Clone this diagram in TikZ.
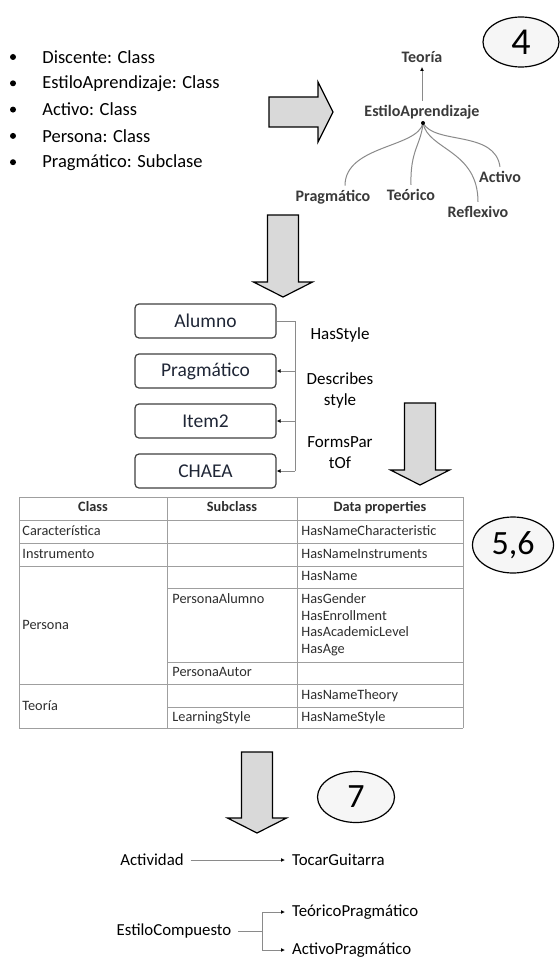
\documentclass[tikz,border=0pt]{standalone}
\usepackage{fontspec}
\setmainfont{Carlito}
\usepackage{tikz}
\usetikzlibrary{shapes.geometric,arrows.meta}
\definecolor{arrowfill}{HTML}{D9D9D9}
\definecolor{linkgray}{HTML}{8A8A8A}
\definecolor{boxtext}{HTML}{1F2636}
\definecolor{treetext}{HTML}{3A3A3A}
\definecolor{celltext}{HTML}{2E2E2E}

\begin{document}
\begin{tikzpicture}[x=0.5pt, y=-0.5pt,
    blockarrow/.style={draw=black, fill=arrowfill, line width=0.6pt},
    stepmark/.style={ellipse, draw=black, fill=gray!7, line width=0.6pt, inner sep=0pt},
    smalltip/.style={-{Latex[length=2pt,width=2pt,color=black]}},
    graylink/.style={draw=linkgray, line width=0.5pt},
    treelabel/.style={inner sep=2pt, text=treetext, font=\fontsize{8}{9}\selectfont\bfseries},
    classbox/.style={draw=black!75, fill=white, rounded corners=2pt, line width=0.6pt,
        minimum width=70.5pt, minimum height=17pt, inner sep=0pt,
        text=boxtext, font=\fontsize{9.75}{11}\selectfont},
    rellabel/.style={align=center, font=\fontsize{8.5}{10.5}\selectfont},
    tableline/.style={draw=gray!75, line width=0.5pt},
    cell/.style={anchor=west, inner sep=0pt, text height=5.2pt, text depth=1.6pt,
        text=celltext, font=\fontsize{7.15}{8}\selectfont},
    headcell/.style={inner sep=0pt, text height=5.2pt, text depth=1.6pt,
        text=celltext, font=\fontsize{7.15}{8}\selectfont\bfseries},
    plainlabel/.style={font=\fontsize{8.4}{10}\selectfont}]

    \fill[white] (0,0) rectangle (559,963);
    \useasboundingbox (0,0) rectangle (559,963);

    % Step marks
    \node[stepmark, minimum width=38pt, minimum height=25pt, font=\fontsize{19}{19}\selectfont] (stepfour) at (521,42) {4};
    \node[stepmark, minimum width=40.5pt, minimum height=28pt, font=\fontsize{17}{17}\selectfont] (stepfive) at (513,545) {5,6};
    \node[stepmark, minimum width=38.5pt, minimum height=25.5pt, font=\fontsize{17}{17}\selectfont] (stepseven) at (356,797) {7};

    % Bullet list
    \foreach \txt [count=\i] in {Discente: Class, EstiloAprendizaje: Class, Activo: Class, Persona: Class, Pragmático: Subclase} {
        \fill (13,{57+(\i-1)*26.3}) circle (3);
        \node[anchor=west, inner sep=0pt, font=\fontsize{9.25}{11}\selectfont] (item\i) at (42,{57+(\i-1)*26.3}) {\txt};
    }

    % Block arrows
    \draw[blockarrow] (269,97) -- (318,97) -- (318,82) -- (333,112) -- (318,142) -- (318,127) -- (269,127) -- cycle;
    \foreach \ax/\ay/\ah in {283/215/282, 420/403/470, 257/752/818}
        \draw[blockarrow] ({\ax-15.5},\ay) -- ({\ax+15.5},\ay) -- ({\ax+15.5},\ah) -- ({\ax+29.5},\ah)
            -- (\ax,{\ah+15}) -- ({\ax-29.5},\ah) -- ({\ax-15.5},\ah) -- cycle;

    % Style tree
    \node[treelabel] (teoria) at (422,57) {Teoría};
    \node[treelabel] (estilo) at (422,112) {EstiloAprendizaje};
    \draw[graylink, smalltip] (estilo.north) -- (teoria.south);
    \coordinate (hub) at (423,123);
    \node[treelabel] (pragm) at (333,197) {Pragmático};
    \node[treelabel] (teorico) at (411,195) {Teórico};
    \node[treelabel] (reflex) at (478,212) {Reflexivo};
    \node[treelabel] (activo) at (500,177) {Activo};
    \draw[graylink] (hub) .. controls (418,148) and (345,145) .. ([xshift=6pt]pragm.north);
    \draw[graylink] (hub) .. controls (421,145) and (410,150) .. (teorico.north);
    \draw[graylink] (hub) .. controls (428,150) and (478,150) .. (reflex.north);
    \draw[graylink] (hub) .. controls (435,145) and (495,130) .. (activo.north);
    \fill (hub) circle (2);

    % Classes and relations
    \node[classbox] (alumno) at (205.5,321) {Alumno};
    \node[classbox] (pragmatico) at (205.5,371) {Pragmático};
    \node[classbox] (itemtwo) at (205.5,421) {Item2};
    \node[classbox] (chaea) at (205.5,471) {CHAEA};
    \coordinate (railtop) at (295,321);
    \coordinate (railbot) at (295,471);
    \draw[graylink] (alumno.east) -- (railtop) -- (railbot);
    \draw[graylink, smalltip] (railtop |- pragmatico.east) -- (pragmatico.east);
    \draw[graylink, smalltip] (railtop |- itemtwo.east) -- (itemtwo.east);
    \draw[graylink, smalltip] (railbot) -- (chaea.east);
    \node[rellabel] (hasstyle) at (340,335) {HasStyle};
    \node[rellabel] (describes) at (340,390) {Describes\\style};
    \node[rellabel] (formspart) at (340,453) {FormsPar\\tOf};

    % Table
    \foreach \ry in {497,520,543,566,684,728}
        \draw[tableline] (19,\ry) -- (463,\ry);
    \foreach \ry in {588,662,707}
        \draw[tableline] (167,\ry) -- (463,\ry);
    \foreach \cx in {19,167,297,463}
        \draw[tableline] (\cx,497) -- (\cx,728);
    \node[headcell] (hclass) at (93,508) {Class};
    \node[headcell] (hsub) at (232,508) {Subclass};
    \node[headcell] (hdata) at (380,508) {Data properties};
    \foreach \tx/\ty/\tt [count=\k] in {
        22/532/Característica, 301/532/HasNameCharacteristic,
        22/555/Instrumento, 301/555/HasNameInstruments,
        301/577/HasName,
        22/626/Persona, 172/600/PersonaAlumno,
        301/600/HasGender, 301/617/HasEnrollment, 301/633/HasAcademicLevel, 301/650/HasAge,
        172/673/PersonaAutor,
        22/707/Teoría, 301/696/HasNameTheory, 172/718/LearningStyle, 301/718/HasNameStyle}
        \node[cell] (cell\k) at (\tx,\ty) {\tt};

    % Instances
    \node[plainlabel] (actividad) at (152,860) {Actividad};
    \node[plainlabel, anchor=west] (tocar) at (285,860) {TocarGuitarra};
    \draw[graylink, smalltip] (actividad.east) -- (tocar.west);
    \node[plainlabel] (compuesto) at (174,931) {EstiloCompuesto};
    \node[plainlabel, anchor=west] (teoprag) at (285,912) {TeóricoPragmático};
    \node[plainlabel, anchor=west] (actprag) at (285,950) {ActivoPragmático};
    \coordinate (split) at (262,931);
    \draw[graylink] (compuesto.east) -- (split);
    \draw[graylink, smalltip] (split) |- (teoprag.west);
    \draw[graylink, smalltip] (split) |- (actprag.west);
\end{tikzpicture}
\end{document}
